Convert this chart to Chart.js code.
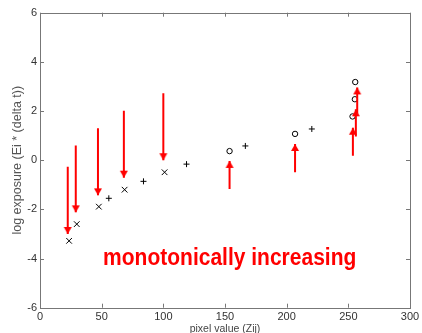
<!DOCTYPE html>
<html>
<head>
<meta charset="utf-8">
<script src="https://cdn.jsdelivr.net/npm/chart.js@4/dist/chart.umd.min.js"></script>
<style>
  html, body { margin: 0; padding: 0; background: #fff; }
</style>
</head>
<body>
<canvas id="plot" width="422" height="333"></canvas>
<script>
// samples (pixel value, log exposure)
const crossX = [23.6, 29.8, 47.7, 68.6, 101];
const crossY = [-3.28, -2.6, -1.89, -1.2, -0.49];
const plusX = [55.8, 83.9, 118.8, 166.5, 220.4];
const plusY = [-1.55, -0.86, -0.16, 0.58, 1.27];
const circleX = [153.7, 206.8, 253.4, 255.3, 255.6];
const circleY = [0.37, 1.07, 1.78, 2.48, 3.18];

// red arrows: x, start, tip
const downX = [22.5, 29, 47, 68, 100];
const downFrom = [-0.27, 0.6, 1.3, 2.01, 2.72];
const downTo = [-3.0, -2.12, -1.43, -0.71, 0.0];
const upX = [153.7, 206.8, 253.7, 256.1, 257.2];
const upFrom = [-1.17, -0.49, 0.18, 0.96, 1.9];
const upTo = [-0.03, 0.66, 1.32, 2.07, 2.96];

const xTicks = [0, 50, 100, 150, 200, 250, 300];
const yTicks = [-6, -4, -2, 0, 2, 4, 6];

const RED = '#ff0000';
const FONT = "'Liberation Sans', Arial, sans-serif";

// arrow head image with its tip at the centre
function headImage(down) {
  const c = document.createElement('canvas');
  c.width = 20; c.height = 20;
  const g = c.getContext('2d');
  g.fillStyle = RED;
  g.beginPath();
  if (down) {
    g.moveTo(10, 10); g.lineTo(6, 3); g.lineTo(14, 3);
  } else {
    g.moveTo(10, 10); g.lineTo(6, 17); g.lineTo(14, 17);
  }
  g.closePath();
  g.fill();
  return c;
}
const headDown = headImage(true);
const headUp = headImage(false);

function pts(xs, ys) {
  return xs.map((x, i) => ({ x: x, y: ys[i] }));
}

const datasets = [];
downX.forEach((x, i) => {
  datasets.push({
    type: 'line',
    data: [{ x: x, y: downFrom[i] }, { x: x, y: downTo[i] }],
    borderColor: RED, borderWidth: 2,
    pointStyle: [false, headDown], pointRadius: [0, 10],
    pointHoverRadius: 0
  });
});
upX.forEach((x, i) => {
  datasets.push({
    type: 'line',
    data: [{ x: x, y: upFrom[i] }, { x: x, y: upTo[i] }],
    borderColor: RED, borderWidth: 2,
    pointStyle: [false, headUp], pointRadius: [0, 10],
    pointHoverRadius: 0
  });
});
datasets.push({
  data: pts(crossX, crossY), pointStyle: 'crossRot', pointRadius: 4,
  borderColor: '#000', borderWidth: 1, showLine: false
});
datasets.push({
  data: pts(plusX, plusY), pointStyle: 'cross', pointRadius: 3,
  borderColor: '#000', borderWidth: 1, showLine: false
});
datasets.push({
  data: pts(circleX, circleY), pointStyle: 'circle', pointRadius: 2.7,
  borderColor: '#000', backgroundColor: 'rgba(0,0,0,0)', borderWidth: 1, showLine: false
});

// box with inward ticks on all four sides, plus the red note
const frame = {
  id: 'frame',
  afterDatasetsDraw(chart) {
    const { ctx, chartArea: a, scales } = chart;
    ctx.save();
    ctx.strokeStyle = '#777';
    ctx.lineWidth = 1;
    ctx.strokeRect(Math.round(a.left) + 0.5, Math.round(a.top) + 0.5,
      Math.round(a.right - a.left), Math.round(a.bottom - a.top));
    ctx.beginPath();
    xTicks.forEach(v => {
      const px = Math.round(scales.x.getPixelForValue(v)) + 0.5;
      ctx.moveTo(px, a.bottom); ctx.lineTo(px, a.bottom - 4);
      ctx.moveTo(px, a.top); ctx.lineTo(px, a.top + 4);
    });
    yTicks.forEach(v => {
      const py = Math.round(scales.y.getPixelForValue(v)) + 0.5;
      ctx.moveTo(a.left, py); ctx.lineTo(a.left + 4, py);
      ctx.moveTo(a.right, py); ctx.lineTo(a.right - 4, py);
    });
    ctx.stroke();

    // the note is a little taller than wide in the original
    ctx.fillStyle = RED;
    ctx.font = 'bold 21px ' + FONT;
    ctx.textAlign = 'center';
    ctx.textBaseline = 'alphabetic';
    ctx.translate(scales.x.getPixelForValue(153.8), scales.y.getPixelForValue(-4.25));
    ctx.scale(1, 1.14);
    ctx.fillText('monotonically increasing', 0, 0);
    ctx.restore();
  }
};

new Chart(document.getElementById('plot'), {
  type: 'scatter',
  data: { datasets: datasets },
  plugins: [frame],
  options: {
    responsive: false,
    animation: false,
    devicePixelRatio: 1,
    layout: { padding: { left: 0, right: 9, top: 12.7, bottom: 0 } },
    plugins: { legend: { display: false }, tooltip: { enabled: false } },
    scales: {
      x: {
        type: 'linear', min: 0, max: 300,
        afterBuildTicks: s => { s.ticks = xTicks.map(v => ({ value: v })); },
        afterFit: s => { s.height = 25.3; s.paddingLeft = 0; s.paddingRight = 0; },
        grid: { display: false, drawTicks: false },
        border: { display: false },
        ticks: { color: '#333', font: { family: FONT, size: 11 }, padding: 3, maxRotation: 0 },
        title: { display: true, text: 'pixel value (Zij)', color: '#444',
          font: { family: FONT, size: 10.5 }, padding: { top: 0, bottom: -2 } }
      },
      y: {
        type: 'linear', min: -6, max: 6,
        afterBuildTicks: s => { s.ticks = yTicks.map(v => ({ value: v })); },
        afterFit: s => { s.width = 40; s.paddingTop = 0; s.paddingBottom = 0; },
        grid: { display: false, drawTicks: false },
        border: { display: false },
        ticks: { color: '#333', font: { family: FONT, size: 11 }, padding: 3 },
        title: { display: true, text: 'log exposure (Ei * (delta t))', color: '#555',
          font: { family: FONT, size: 12.5 }, padding: { top: 10.5, bottom: 0 } }
      }
    }
  }
});
</script>
</body>
</html>
